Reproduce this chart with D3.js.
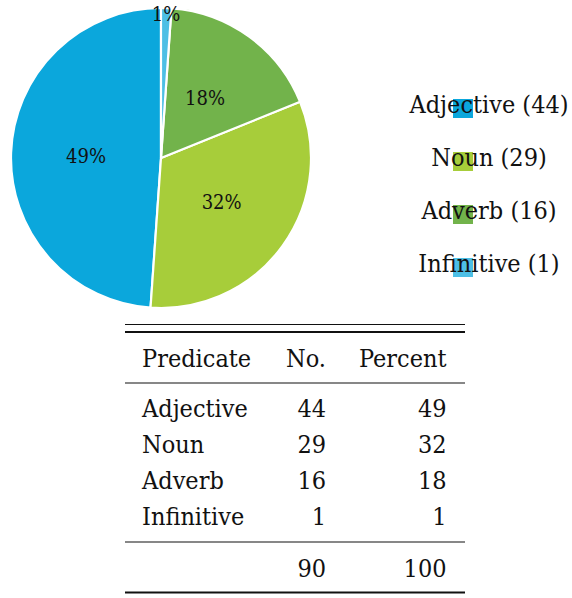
<!DOCTYPE html>
<html>
<head>
<meta charset="utf-8">
<script src="https://cdn.jsdelivr.net/npm/d3@7"></script>
<style>
  body { margin: 0; background: #fff; }
</style>
</head>
<body>
<svg id="chart" width="572" height="598"></svg>
<script>
// data
var predicates = ["Adjective", "Noun", "Adverb", "Infinitive"];
var counts = [44, 29, 16, 1];
var percents = [49, 32, 18, 1];
var colors = ["#0ba7dc", "#a7cd3a", "#72b34b", "#4dbfe5"];
var headers = ["Predicate", "No.", "Percent"];
var totals = ["", 90, 100];

var serif = "'DejaVu Serif Condensed', 'DejaVu Serif', serif";

var svg = d3.select("#chart")
  .attr("font-family", serif)
  .attr("font-stretch", "condensed")
  .attr("fill", "#111");

// ---- pie ----
var cx = 161, cy = 158, radius = 150;

var pie = d3.pie().sort(null).value(function(d) { return d.count; })
  .startAngle(0).endAngle(-2 * Math.PI);   // counterclockwise from the top

var slices = predicates.map(function(p, i) {
  return { name: p, count: counts[i], pct: percents[i], col: colors[i] };
});

var arc = d3.arc().innerRadius(0).outerRadius(radius);
var edgeArc = d3.arc().innerRadius(radius * 0.965).outerRadius(radius * 0.965);

var g = svg.append("g").attr("transform", "translate(" + cx + "," + cy + ")");

var arcs = pie(slices);

g.selectAll("path")
  .data(arcs)
  .enter().append("path")
  .attr("d", arc)
  .attr("fill", function(d) { return d.data.col; })
  .attr("stroke", "#fff")
  .attr("stroke-width", 2.2)
  .attr("stroke-linejoin", "round");

g.selectAll("text.pct")
  .data(arcs)
  .enter().append("text")
  .attr("class", "pct")
  .attr("transform", function(d) {
    var small = d.data.pct < 5;
    var c = small ? edgeArc.centroid(d) : arc.centroid(d);
    return "translate(" + c[0] + "," + c[1] + ")";
  })
  .attr("text-anchor", "middle")
  .attr("dy", "0.36em")
  .attr("font-size", 20)
  .text(function(d) { return d.data.pct + "%"; });

// ---- legend ----
var legY = d3.scalePoint().domain(predicates).range([113, 272]);
var leg = svg.append("g");

leg.selectAll("rect")
  .data(slices)
  .enter().append("rect")
  .attr("x", 453)
  .attr("y", function(d) { return legY(d.name) - 14; })
  .attr("width", 20)
  .attr("height", 19)
  .attr("fill", function(d) { return d.col; });

leg.selectAll("text")
  .data(slices)
  .enter().append("text")
  .attr("x", 489)
  .attr("y", function(d) { return legY(d.name); })
  .attr("text-anchor", "middle")
  .attr("font-size", 25)
  .text(function(d) { return d.name + " (" + d.count + ")"; });

// ---- table ----
var tbl = svg.append("g");
var x0 = 125, x1 = 465;
var colX = [142, 326, 446.5];
var colAnchor = ["start", "end", "end"];
var rowY = d3.scaleLinear().domain([0, predicates.length - 1]).range([416.5, 525]);

function rule(y, w) {
  tbl.append("line").attr("x1", x0).attr("x2", x1)
    .attr("y1", y).attr("y2", y)
    .attr("stroke", "#111").attr("stroke-width", w);
}
rule(324.5, 1.2);
rule(332, 2);
rule(383, 1.2);
rule(542, 1.2);
rule(592.5, 2);

function row(cells, y) {
  cells.forEach(function(c, j) {
    tbl.append("text")
      .attr("x", colX[j]).attr("y", y)
      .attr("text-anchor", colAnchor[j])
      .attr("font-size", 25)
      .text(c);
  });
}
row(headers, 366.5);
predicates.forEach(function(p, i) {
  row([p, counts[i], percents[i]], rowY(i));
});
row(totals, 576.5);
</script>
</body>
</html>
